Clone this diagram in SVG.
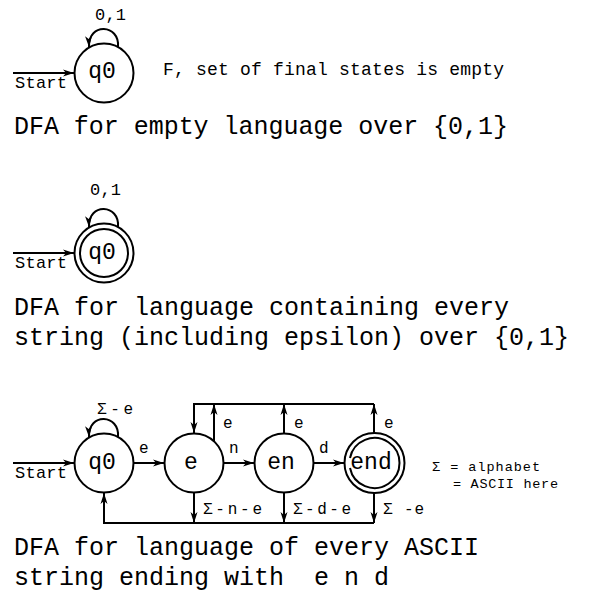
<svg xmlns="http://www.w3.org/2000/svg" width="599" height="599" viewBox="0 0 599 599">
<defs>
<marker id="arr" markerWidth="12" markerHeight="8" refX="11" refY="4" orient="auto" markerUnits="userSpaceOnUse">
<path d="M0,0.5 L11,4 L0,7.5 L3,4 Z" fill="#000"/>
</marker>
</defs>
<style>
text{font-family:"Liberation Mono","DejaVu Sans Mono",monospace;fill:#000;white-space:pre}
.st{fill:#fff;stroke:#000;stroke-width:2}
.in{fill:none;stroke:#000;stroke-width:2}
.c{fill:none;stroke:#000;stroke-width:2}
.a{marker-end:url(#arr)}
.nl{font-size:23px;text-anchor:middle}
.lb{font-size:16px}
.ti{font-size:25px}
</style>
<rect width="599" height="599" fill="#fff"/>

<!-- Diagram 1 -->
<g id="connectors1">
<line class="c a" x1="13" y1="73" x2="74" y2="73"/>
<path class="c a" d="M118,47 C120,24 88,22 89,47"/>
</g>
<g id="d1-q0">
<circle class="st" cx="104" cy="73" r="29.5"/>
<text class="nl" x="102" y="78">q0</text>
</g>
<text x="95" y="20" font-size="17" textLength="31">0,1</text>
<text x="15" y="88" font-size="17" textLength="52">Start</text>
<text x="163" y="75" font-size="18" textLength="341">F, set of final states is empty</text>
<text class="ti" x="14" y="134" textLength="494">DFA for empty language over {0,1}</text>

<!-- Diagram 2 -->
<g id="connectors2">
<line class="c a" x1="13" y1="253" x2="74" y2="253"/>
<path class="c a" d="M118,227 C120,204 88,202 89,227"/>
</g>
<g id="d2-q0">
<circle class="st" cx="104" cy="253" r="29.5"/>
<circle class="in" cx="104" cy="253" r="24"/>
<text class="nl" x="102" y="259">q0</text>
</g>
<text x="90" y="195" font-size="17" textLength="31">0,1</text>
<text x="15" y="268" font-size="17" textLength="52">Start</text>
<text class="ti" x="14" y="315">DFA for language containing every</text>
<text class="ti" x="14" y="345">string (including epsilon) over {0,1}</text>

<!-- Diagram 3 -->
<g id="connectors3">
<line class="c a" x1="13" y1="463" x2="74" y2="463"/>
<path class="c a" d="M118,437 C120,414 88,412 89,437"/>
<line class="c a" x1="134" y1="463" x2="164" y2="463"/>
<line class="c a" x1="224" y1="463" x2="254" y2="463"/>
<line class="c a" x1="314" y1="463" x2="344" y2="463"/>
<path class="c a" d="M374,404 L194,404 L194,433"/>
<line class="c a" x1="214" y1="441" x2="214" y2="404"/>
<line class="c a" x1="284" y1="433" x2="284" y2="404"/>
<line class="c a" x1="374" y1="433" x2="374" y2="404"/>
<line class="c a" x1="194" y1="493" x2="194" y2="523"/>
<line class="c a" x1="284" y1="493" x2="284" y2="523"/>
<line class="c a" x1="374" y1="493" x2="374" y2="523"/>
<path class="c a" d="M374,523 L104,523 L104,493"/>
</g>
<g id="d3-q0">
<circle class="st" cx="104" cy="463" r="29.5"/>
<text class="nl" x="102" y="469">q0</text>
</g>
<g id="d3-e">
<circle class="st" cx="194" cy="463" r="29.5"/>
<text class="nl" x="191" y="469">e</text>
</g>
<g id="d3-en">
<circle class="st" cx="284" cy="463" r="29.5"/>
<text class="nl" x="281" y="469">en</text>
</g>
<g id="d3-end">
<circle class="st" cx="374.5" cy="463" r="30"/>
<path class="in" d="M350,458 A25,25 0 1 1 350,468"/>
<text class="nl" x="371" y="469">end</text>
</g>
<text class="lb" x="97" y="414" textLength="36">Σ-e</text>
<text x="15" y="478" font-size="17" textLength="52">Start</text>
<text class="lb" x="139" y="453">e</text>
<text class="lb" x="229" y="453">n</text>
<text class="lb" x="319" y="453">d</text>
<text class="lb" x="223" y="428">e</text>
<text class="lb" x="294" y="428">e</text>
<text class="lb" x="384" y="428">e</text>
<text class="lb" x="203" y="514" textLength="59">Σ-n-e</text>
<text class="lb" x="293" y="514" textLength="58">Σ-d-e</text>
<text class="lb" x="383" y="514" textLength="41">Σ -e</text>
<text x="432" y="471" font-size="13.5" textLength="108">Σ = alphabet</text>
<text x="453" y="488" font-size="13.5" textLength="105">= ASCII here</text>
<text class="ti" x="14" y="555">DFA for language of every ASCII</text>
<text class="ti" x="14" y="585">string ending with  e n d</text>
</svg>
